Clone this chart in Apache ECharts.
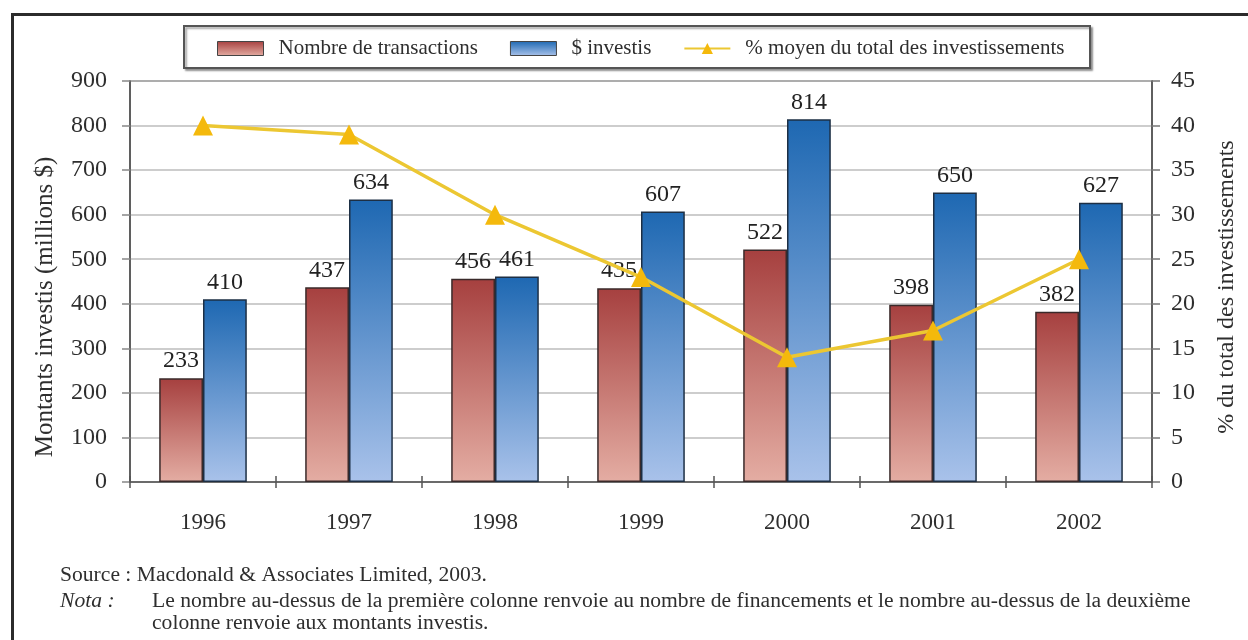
<!DOCTYPE html>
<html>
<head>
<meta charset="utf-8">
<script src="https://cdn.jsdelivr.net/npm/echarts@6/dist/echarts.min.js"></script>
<style>
  html, body { margin: 0; padding: 0; background: #fff; }
  #chart { width: 1248px; height: 640px; }
</style>
</head>
<body>
<div id="chart"></div>
<script>
// Années
const years = ['1996', '1997', '1998', '1999', '2000', '2001', '2002'];
// Nombre de transactions (colonne rouge)
const transactions = [233, 437, 456, 435, 522, 398, 382];
// $ investis, en millions (colonne bleue)
const invested = [410, 634, 461, 607, 814, 650, 627];
// % moyen du total des investissements (ligne jaune, axe de droite)
const avgShare = [40, 39, 30, 23, 14, 17, 25];

const leftTicks = { min: 0, max: 900, interval: 100 };
const rightTicks = { min: 0, max: 45, interval: 5 };

const SERIF = '"Liberation Serif", "DejaVu Serif", serif';
const TXT = '#2e2e2e';

const chart = echarts.init(document.getElementById('chart'), null, { renderer: 'canvas' });

const redFill = new echarts.graphic.LinearGradient(0, 0, 0, 1, [
  { offset: 0, color: '#a6403f' },
  { offset: 1, color: '#e4ada3' }
]);
const blueFill = new echarts.graphic.LinearGradient(0, 0, 0, 1, [
  { offset: 0, color: '#1e68b2' },
  { offset: 1, color: '#a9c2ea' }
]);

const barLabel = {
  show: true,
  position: 'top',
  distance: 5,
  fontFamily: SERIF,
  fontSize: 24,
  color: '#222'
};

chart.setOption({
  backgroundColor: '#fff',
  animation: false,
  textStyle: { fontFamily: SERIF },
  grid: {
    left: 130, right: 96, top: 81, bottom: 158,
    show: true, borderColor: '#555', borderWidth: 1.5, backgroundColor: 'transparent'
  },
  legend: {
    left: 212, top: 33,
    itemWidth: 46, itemHeight: 14,
    itemGap: 32,
    textStyle: { fontFamily: SERIF, fontSize: 21, color: TXT, padding: [0, 0, 0, 10] },
    data: [
      { name: 'Nombre de transactions', icon: 'rect', itemStyle: { borderColor: '#444', borderWidth: 1 } },
      { name: '$ investis', icon: 'rect', itemStyle: { borderColor: '#444', borderWidth: 1 } },
      { name: '% moyen du total des investissements' }
    ]
  },
  xAxis: [
    {
      type: 'category',
      data: years,
      axisLine: { lineStyle: { color: '#555', width: 1.5 } },
      axisTick: { show: true, inside: false, length: 6, lineStyle: { color: '#555', width: 1.5 } },
      axisLabel: { fontFamily: SERIF, fontSize: 23, color: TXT, margin: 29 },
      splitLine: { show: false }
    },
    {
      type: 'category',
      data: years,
      position: 'bottom',
      axisLine: { show: false },
      axisTick: { show: true, inside: true, length: 6, lineStyle: { color: '#555', width: 1.5 } },
      axisLabel: { show: false },
      splitLine: { show: false }
    }
  ],
  yAxis: [
    {
      type: 'value',
      min: leftTicks.min, max: leftTicks.max, interval: leftTicks.interval,
      axisLine: { show: true, lineStyle: { color: '#555', width: 1.5 } },
      axisTick: { show: true, length: 8, lineStyle: { color: '#888', width: 1.5 } },
      axisLabel: { fontFamily: SERIF, fontSize: 24, color: TXT, margin: 23 },
      splitLine: { show: true, lineStyle: { color: '#bdbdbd', width: 1.5 } }
    },
    {
      type: 'value',
      min: rightTicks.min, max: rightTicks.max, interval: rightTicks.interval,
      position: 'right',
      axisLine: { show: true, lineStyle: { color: '#555', width: 1.5 } },
      axisTick: { show: true, length: 8, lineStyle: { color: '#777', width: 1.5 } },
      axisLabel: { fontFamily: SERIF, fontSize: 24, color: TXT, margin: 19 },
      splitLine: { show: false }
    }
  ],
  series: [
    {
      name: 'Nombre de transactions',
      type: 'bar',
      data: transactions,
      barGap: '0%',
      barCategoryGap: '40%',
      itemStyle: { color: redFill, borderColor: '#3a2a2a', borderWidth: 1.5 },
      label: barLabel,
      z: 2
    },
    {
      name: '$ investis',
      type: 'bar',
      data: invested,
      itemStyle: { color: blueFill, borderColor: '#1d2f44', borderWidth: 1.5 },
      label: barLabel,
      z: 2
    },
    {
      name: '% moyen du total des investissements',
      type: 'line',
      yAxisIndex: 1,
      data: avgShare,
      symbol: 'triangle',
      symbolSize: 20,
      itemStyle: { color: '#f4b90c' },
      lineStyle: { color: '#ecc732', width: 3.5 },
      z: 5
    }
  ],
  graphic: [
    // cadre extérieur
    {
      type: 'rect', left: 11, top: 13, z: -10, silent: true,
      shape: { width: 1300, height: 700 },
      style: { fill: '#fff', stroke: '#2b2b2b', lineWidth: 3 }
    },
    // encadré de la légende
    {
      type: 'rect', left: 183, top: 25, z: -5, silent: true,
      shape: { width: 906, height: 42 },
      style: {
        fill: '#fff', stroke: '#555', lineWidth: 2,
        shadowColor: 'rgba(0,0,0,0.35)', shadowOffsetX: 2, shadowOffsetY: 2, shadowBlur: 2
      }
    },
    // titre de l'axe de gauche
    {
      type: 'text', x: 45, y: 307, rotation: Math.PI / 2, silent: true,
      style: {
        text: 'Montants investis (millions $)',
        font: '25px ' + SERIF, fill: TXT, align: 'center', verticalAlign: 'middle'
      }
    },
    // titre de l'axe de droite
    {
      type: 'text', x: 1227, y: 287, rotation: Math.PI / 2, silent: true,
      style: {
        text: '% du total des investissements',
        font: '24px ' + SERIF, fill: TXT, align: 'center', verticalAlign: 'middle'
      }
    },
    // notes
    {
      type: 'text', left: 60, top: 564, silent: true,
      style: { text: 'Source : Macdonald & Associates Limited, 2003.', font: '21.6px ' + SERIF, fill: TXT }
    },
    {
      type: 'text', left: 60, top: 590, silent: true,
      style: { text: 'Nota :', font: 'italic 21.6px ' + SERIF, fill: TXT }
    },
    {
      type: 'text', left: 152, top: 590, silent: true,
      style: {
        text: 'Le nombre au-dessus de la première colonne renvoie au nombre de financements et le nombre au-dessus de la deuxième',
        font: '21.6px ' + SERIF, fill: TXT
      }
    },
    {
      type: 'text', left: 152, top: 612, silent: true,
      style: { text: 'colonne renvoie aux montants investis.', font: '21.6px ' + SERIF, fill: TXT }
    }
  ]
});
</script>
</body>
</html>
